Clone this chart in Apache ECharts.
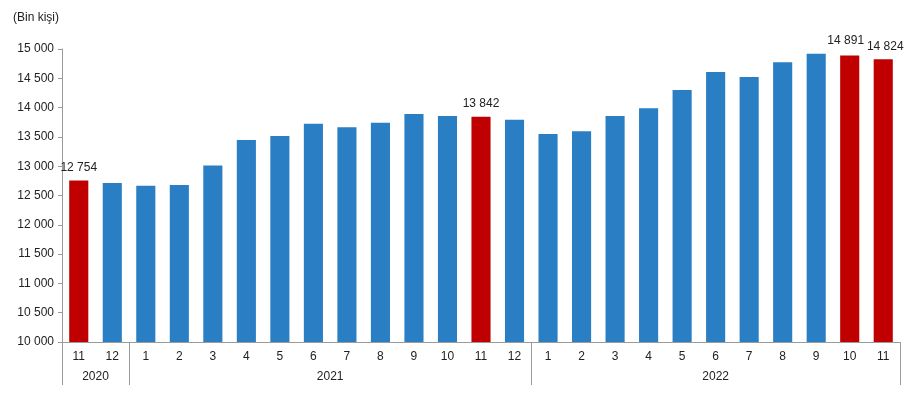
<!DOCTYPE html>
<html>
<head>
<meta charset="utf-8">
<script src="https://cdn.jsdelivr.net/npm/echarts@6/dist/echarts.min.js"></script>
<style>
html,body{margin:0;padding:0;background:#fff;}
#c{width:916px;height:400px;}
</style>
</head>
<body>
<div id="c"></div>
<script>
// Data
var months = ['11','12','1','2','3','4','5','6','7','8','9','10','11','12','1','2','3','4','5','6','7','8','9','10','11'];
var values = [12754,12712,12667,12680,13010,13447,13515,13725,13663,13742,13891,13857,13842,13794,13549,13595,13857,13988,14300,14608,14522,14773,14920,14891,14824];
var highlighted = [0,12,23,24];
var years = ['2020','2021','2022'];
var yearStart = [0,2,14];   // first category index of each year
var yearEnd = [2,14,25];    // one past the last category index
var yTicks = [10000,10500,11000,11500,12000,12500,13000,13500,14000,14500,15000];

var BLUE = '#2a7ec3', RED = '#c00000';
var FONT = 'Arial, "Liberation Sans", sans-serif';
// label nudges so the two adjacent labels do not collide (style only)
var labelNudge = {23: [-4, -2], 24: [2, 0]};

function fmt(v){ return String(v).replace(/\B(?=(\d{3})+(?!\d))/g,' '); }

var dataItems = values.map(function(v,i){
  var hi = highlighted.indexOf(i) >= 0;
  var lab = {show: hi};
  if (labelNudge[i]) lab.offset = labelNudge[i];
  return {
    value: v,
    itemStyle: {color: hi ? RED : BLUE},
    label: lab
  };
});

var boundaries = [0].concat(yearEnd);
var labelPos = yearStart.map(function(s,i){ return (s + yearEnd[i]) / 2; });

var chart = echarts.init(document.getElementById('c'));
chart.setOption({
  animation: false,
  textStyle: {fontFamily: FONT},
  title: {
    text: '(Bin kişi)', left: 8, top: 7,
    textStyle: {fontSize: 12, fontWeight: 'normal', color: '#222', fontFamily: FONT}
  },
  grid: {left: 62, right: 16, top: 49, bottom: 58},
  xAxis: [{
    type: 'category',
    data: months,
    position: 'bottom',
    axisLine: {show: true, lineStyle: {color: '#9a9a9a', width: 1}},
    axisTick: {show: false},
    axisLabel: {color: '#222', fontSize: 12, margin: 9, interval: 0, fontFamily: FONT}
  }, {
    type: 'value',
    min: 0, max: months.length,
    position: 'bottom',
    axisLine: {show: false},
    splitLine: {show: false},
    axisTick: {show: true, customValues: boundaries, length: 43, lineStyle: {color: '#9a9a9a', width: 1}},
    axisLabel: {
      show: true, customValues: labelPos, margin: 29, color: '#222', fontSize: 12, fontFamily: FONT,
      formatter: function(v){
        for (var i = 0; i < labelPos.length; i++) { if (Math.abs(labelPos[i]-v) < 1e-6) return years[i]; }
        return '';
      }
    }
  }],
  yAxis: {
    type: 'value',
    min: 10000, max: 15000, interval: 500,
    axisLine: {show: true, lineStyle: {color: '#9a9a9a', width: 1}},
    axisTick: {show: true, length: 4, lineStyle: {color: '#9a9a9a'}},
    splitLine: {show: false},
    axisLabel: {color: '#222', fontSize: 12, margin: 8, fontFamily: FONT, formatter: function(v){ return fmt(v); }}
  },
  series: [{
    type: 'bar',
    xAxisIndex: 0,
    data: dataItems,
    barWidth: '57%',
    label: {
      position: 'top', distance: 7, color: '#222', fontSize: 12, fontFamily: FONT,
      formatter: function(p){ return fmt(p.value); }
    }
  }]
});
</script>
</body>
</html>
